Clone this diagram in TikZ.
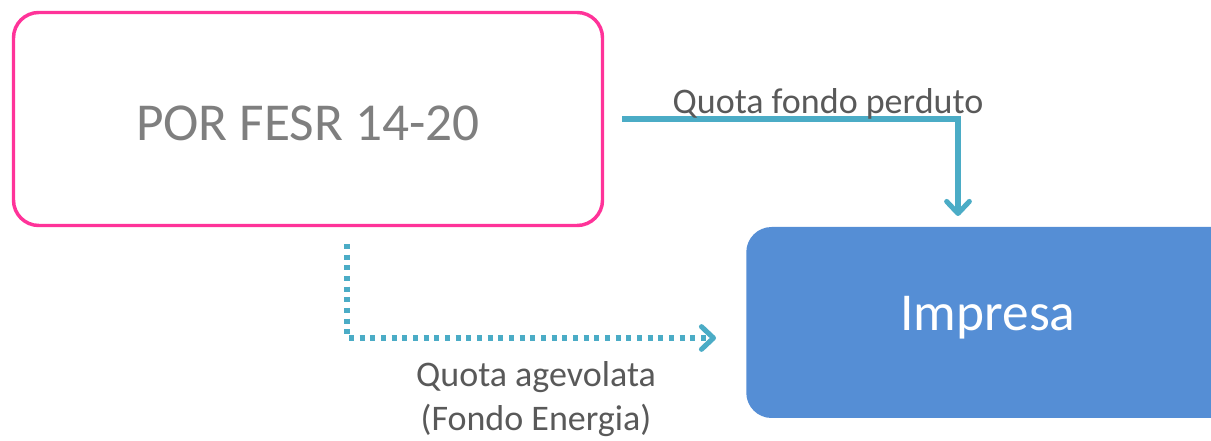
\documentclass[tikz,border=0pt]{standalone}
\usepackage{fontspec}
\setmainfont{Carlito}
\usetikzlibrary{arrows.meta}
\definecolor{pinkc}{HTML}{FF3399}
\definecolor{tealc}{HTML}{4BACC6}
\definecolor{bluec}{HTML}{558ED5}
\definecolor{grayA}{HTML}{7F7F7F}
\definecolor{grayB}{HTML}{595959}
\tikzset{
  porbox/.style={draw=pinkc, line width=2.6pt, rounded corners=19pt, minimum width=441.75pt, minimum height=159.75pt, inner sep=0pt},
  impbox/.style={fill=bluec, rounded corners=19pt, minimum width=390pt, minimum height=143.25pt, inner sep=0pt, anchor=west},
  bigtext/.style={font=\fontsize{40pt}{48pt}\selectfont, anchor=base, inner sep=0pt},
  lbltext/.style={font=\fontsize{27pt}{33pt}\selectfont, text=grayB, anchor=base, inner sep=0pt},
  chev/.style={-{Straight Barb[length=9pt,width=17pt,line cap=round,line join=round]}},
  flowline/.style={draw=tealc, line width=3.8pt, chev},
  dotline/.style={draw=tealc, line width=3.8pt, dash pattern=on 3.8pt off 4.2pt, chev},
}
\begin{document}
\begin{tikzpicture}[x=0.75pt,y=-0.75pt]
\useasboundingbox (0,0) rectangle (1211,441);
\clip (0,0) rectangle (1211,441);
\node[porbox] (por) at (308,119) {};
\node[bigtext, text=grayA] (portxt) at (308,141) {POR FESR 14-20};
\node[impbox] (impresa) at (746,322.5) {};
\node[bigtext, text=white] (imptxt) at (988,331) {Impresa};
\coordinate (topstart) at (622,119);
\coordinate (topend) at (958,216);
\coordinate (dotstart) at (347,244);
\coordinate (dotend) at (716,338);
\draw[flowline] (topstart) -| (topend);
\draw[dotline] (dotstart) |- (dotend);
\node[lbltext] (lq1) at (828,114) {Quota fondo perduto};
\node[lbltext] (lq2) at (536,387) {Quota agevolata};
\node[lbltext] (lq3) at (536,431) {(Fondo Energia)};
\end{tikzpicture}
\end{document}
